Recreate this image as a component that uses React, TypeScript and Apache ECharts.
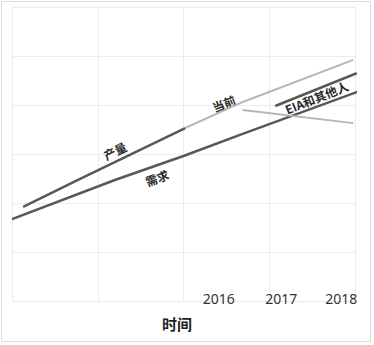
import React, { useEffect, useRef } from "react";
import * as echarts from "echarts";

// x in grid units (4 columns), y in grid units (6 rows)
const productionPast: [number, number][] = [[0.13, 1.92], [0.77, 2.47], [2.02, 3.53]];
const productionCurrent: [number, number][] = [[2.02, 3.53], [2.66, 4.04], [3.98, 4.92]];
const demand: [number, number][] = [[0, 1.67], [1.2, 2.47], [2.0, 2.96], [2.69, 3.41], [4.03, 4.27]];
const eiaUpper: [number, number][] = [[3.07, 3.98], [4.02, 4.65]];
const eiaDecline: [number, number][] = [[2.69, 3.9], [3.98, 3.63]];

const yearLabels = ["2016", "2017", "2018"];
const yearPos = [2.41, 3.14, 3.84];

const lineLabels = [
  { text: "产量", x: 1.2, y: 3.07, angle: 26 },
  { text: "需求", x: 1.69, y: 2.52, angle: 20 },
  { text: "当前", x: 2.47, y: 4.04, angle: 22 },
  { text: "EIA和其他人", x: 3.55, y: 4.16, angle: 22 },
];

export default function App() {
  const ref = useRef<HTMLDivElement>(null);
  useEffect(() => {
    document.body.style.margin = "0";
    const chart = echarts.init(ref.current!, null, { renderer: "svg" });
    const dark = "#585858";
    const light = "#b6b6b6";
    const mk = (data: [number, number][], color: string, w: number) => ({
      type: "line",
      data,
      symbol: "none",
      clip: false,
      lineStyle: { color, width: w },
      silent: true,
    });
    chart.setOption({
      animation: false,
      backgroundColor: "#ffffff",
      grid: { left: 12, right: 19, top: 7, bottom: 44 },
      xAxis: {
        type: "value",
        min: 0,
        max: 4,
        interval: 1,
        axisLine: { show: false },
        axisTick: { show: false },
        axisLabel: { show: false },
        splitLine: { show: true, lineStyle: { color: "#ececec", width: 1 } },
      },
      yAxis: {
        type: "value",
        min: 0,
        max: 6,
        interval: 1,
        axisLine: { show: false },
        axisTick: { show: false },
        axisLabel: { show: false },
        splitLine: { show: true, lineStyle: { color: "#ececec", width: 1 } },
      },
      series: [
        mk(productionPast, dark, 2.5),
        mk(productionCurrent, light, 2),
        mk(demand, dark, 2.5),
        mk(eiaUpper, dark, 2.5),
        mk(eiaDecline, light, 2),
      ],
    });
    const px = (x: number, y: number) => chart.convertToPixel({ gridIndex: 0 }, [x, y]) as number[];
    const elements: any[] = [
      {
        type: "rect",
        shape: { x: 1.5, y: 1.5, width: 369, height: 340 },
        style: { fill: "none", stroke: "#dcdcdc", lineWidth: 1 },
        silent: true,
      },
    ];
    yearLabels.forEach((t, i) => {
      const p = px(yearPos[i], 0);
      elements.push({
        type: "text",
        x: p[0],
        y: p[1] - 3,
        style: {
          text: t,
          align: "center",
          verticalAlign: "middle",
          font: "14px 'Noto Sans', sans-serif",
          fill: "#333333",
        },
      });
    });
    lineLabels.forEach((l) => {
      const p = px(l.x, l.y);
      elements.push({
        type: "text",
        x: p[0],
        y: p[1],
        rotation: (l.angle * Math.PI) / 180,
        style: {
          text: l.text,
          align: "center",
          verticalAlign: "middle",
          font: "bold 12px 'Noto Sans CJK SC', sans-serif",
          fill: "#2a2a2a",
        },
      });
    });
    elements.push({
      type: "text",
      x: 177,
      y: 323,
      style: {
        text: "时间",
        align: "center",
        verticalAlign: "middle",
        font: "bold 15px 'Noto Sans CJK SC', sans-serif",
        fill: "#222222",
      },
    });
    chart.setOption({ graphic: { elements } });
    return () => chart.dispose();
  }, []);
  return <div ref={ref} style={{ width: 374, height: 345 }} />;
}
